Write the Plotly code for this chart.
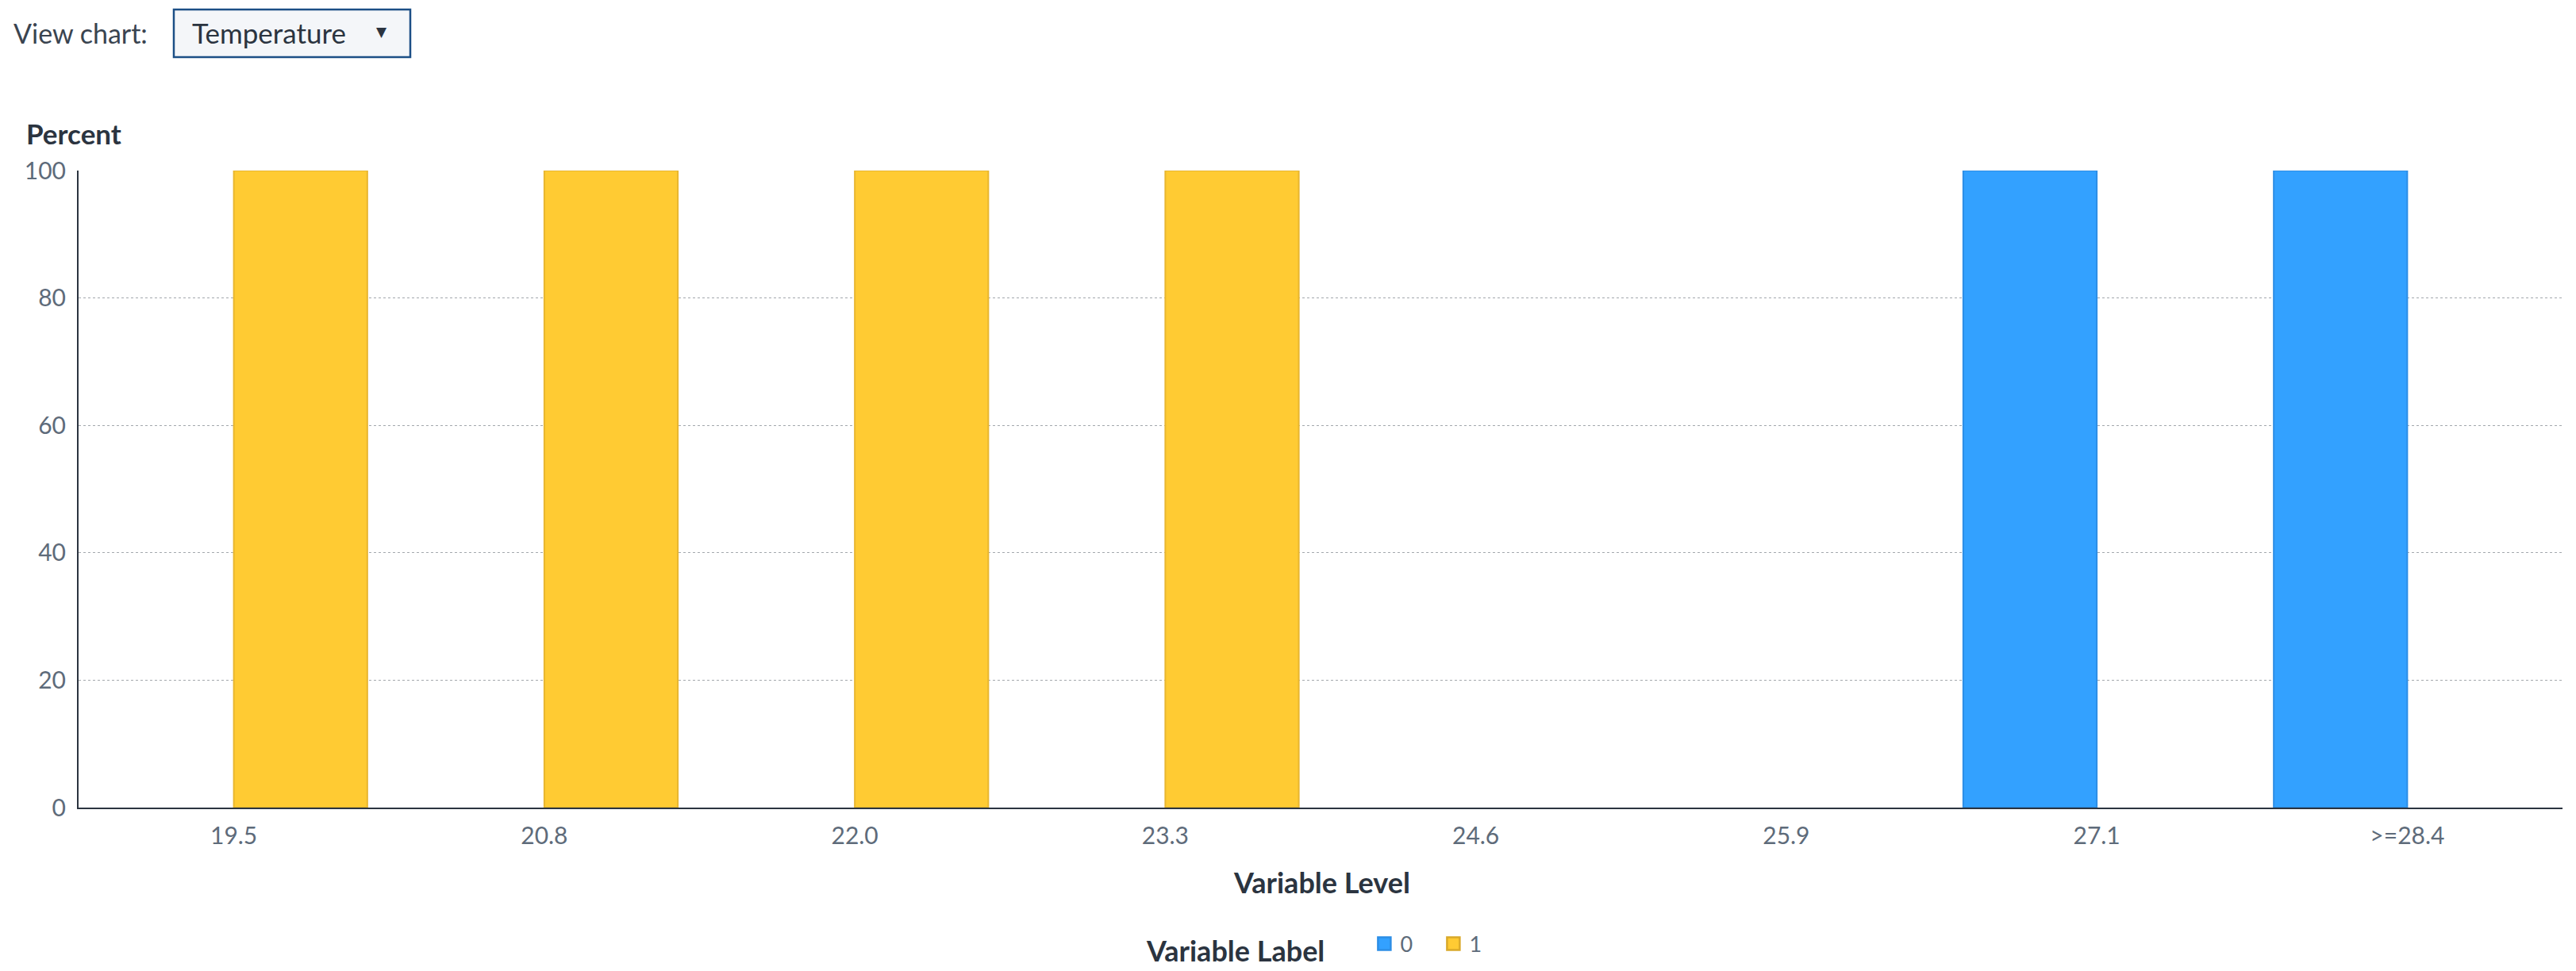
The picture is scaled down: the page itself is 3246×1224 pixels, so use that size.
import plotly.graph_objects as go

categories = ["19.5", "20.8", "22.0", "23.3", "24.6", "25.9", "27.1", ">=28.4"]
series_names = ["0", "1"]
values_0 = [None, None, None, None, None, None, 100, 100]
values_1 = [100, 100, 100, 100, None, None, None, None]
y_ticks = [0, 20, 40, 60, 80, 100]
menu_label = "Temperature"

# the page body has an 8px margin; the figure is sized to fit the window
OFF = 8
W, H = 3246 - OFF, 1224 - OFF
# plot area in reference-window pixels
PL, PR, PT, PB = 99, 3229, 215, 1018
L, R, T, B = PL - OFF, W - (PR - OFF), PT - OFF, H - (PB - OFF)
pw, ph = W - L - R, H - T - B

def px_x(x):
    return (x - OFF - L) / pw

def px_y(y):
    return (H - B - (y - OFF)) / ph

FONT = "Lato"
DARK = "#2b3440"
TICK = "#5e6b7a"

fig = go.Figure()
fig.add_trace(go.Bar(
    x=categories, y=values_0, name=series_names[0], showlegend=False,
    marker=dict(color="#33a1ff", line=dict(color="#2d8ee6", width=2)),
))
fig.add_trace(go.Bar(
    x=categories, y=values_1, name=series_names[1], showlegend=False,
    marker=dict(color="#ffcb33", line=dict(color="#e8b630", width=2)),
))
# legend proxies
fig.add_trace(go.Scatter(
    x=[None], y=[None], mode="markers", name=series_names[0],
    marker=dict(symbol="square", size=16, color="#33a1ff", line=dict(color="#2d8ee6", width=2.5)),
))
fig.add_trace(go.Scatter(
    x=[None], y=[None], mode="markers", name=series_names[1],
    marker=dict(symbol="square", size=16, color="#ffcb33", line=dict(color="#d9a92a", width=2.5)),
))

shapes = [
    dict(type="rect", xref="paper", yref="paper",
         x0=px_x(219), x1=px_x(517), y0=px_y(72), y1=px_y(12),
         fillcolor="#f4f6f9", line=dict(color="#1c4f86", width=2.5), layer="above"),
]

fig.update_layout(
    width=W, height=H,
    margin=dict(l=L, r=R, t=T, b=B, autoexpand=False),
    paper_bgcolor="white", plot_bgcolor="white",
    barmode="group", bargap=0.14, bargroupgap=0,
    font=dict(family=FONT, size=30, color=TICK),
    showlegend=True,
    legend=dict(
        orientation="h", x=px_x(1443), xanchor="left", y=px_y(1194), yanchor="middle",
        title=dict(text="<b>Variable Label</b>\u00a0\u00a0\u00a0\u00a0\u00a0",
                   font=dict(size=36, color=DARK, family=FONT)),
        font=dict(size=27, color=TICK, family=FONT),
        itemwidth=30, entrywidth=42, entrywidthmode="pixels",
    ),
    xaxis=dict(
        type="category", categoryorder="array", categoryarray=categories,
        showgrid=False, showline=True, linecolor=DARK, linewidth=2,
        ticks="", tickfont=dict(size=30, color=TICK), ticklabelstandoff=8,
        zeroline=False, fixedrange=True,
    ),
    yaxis=dict(
        range=[0, 100], tickvals=y_ticks, showgrid=True, gridcolor="#a3a8ad",
        griddash="dot", gridwidth=1, showline=True, linecolor=DARK, linewidth=2,
        ticks="", tickfont=dict(size=30, color=TICK), ticklabelstandoff=8,
        zeroline=False, fixedrange=True,
    ),
    shapes=shapes,
    annotations=[
        dict(text="<b>Percent</b>", x=px_x(31), y=px_y(168), xref="paper", yref="paper",
             xanchor="left", yanchor="middle", showarrow=False,
             font=dict(size=35, color=DARK, family=FONT)),
        dict(text="<b>Variable Level</b>", x=px_x(1665), y=px_y(1112), xref="paper", yref="paper",
             xanchor="center", yanchor="middle", showarrow=False,
             font=dict(size=36, color=DARK, family=FONT)),
        dict(text="View chart:", x=px_x(15), y=px_y(41), xref="paper", yref="paper",
             xanchor="left", yanchor="middle", showarrow=False,
             font=dict(size=34, color="#3a4450", family=FONT)),
        dict(text=menu_label, x=px_x(240), y=px_y(41), xref="paper", yref="paper",
             xanchor="left", yanchor="middle", showarrow=False,
             font=dict(size=35, color="#2b3440", family=FONT)),
        dict(text="▼", x=px_x(481), y=px_y(40), xref="paper", yref="paper",
             xanchor="center", yanchor="middle", showarrow=False,
             font=dict(size=17, color="#2b3440", family="DejaVu Sans")),
    ],
)

fig.write_html("out.html")
